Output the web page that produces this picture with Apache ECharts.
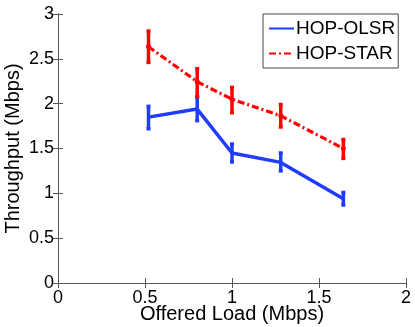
<!DOCTYPE html>
<html>
<head>
<meta charset="utf-8">
<script src="https://cdn.jsdelivr.net/npm/echarts@6/dist/echarts.min.js"></script>
<style>
  html, body { margin: 0; padding: 0; background: #fff; }
  #chart { width: 415px; height: 327px; }
</style>
</head>
<body>
<div id="chart"></div>
<script>
// offered load (Mbps)
const loads = [0.52, 0.8, 1.0, 1.28, 1.64]
// HOP-OLSR throughput and error bar ends
const olsrMean = [1.85, 1.94, 1.45, 1.345, 0.94]
const olsrLow = [1.72, 1.81, 1.35, 1.25, 0.87]
const olsrHigh = [1.97, 2.07, 1.55, 1.45, 1.01]
// HOP-STAR throughput and error bar ends
const starMean = [2.635, 2.245, 2.05, 1.865, 1.50]
const starLow = [2.46, 2.08, 1.90, 1.74, 1.39]
const starHigh = [2.81, 2.39, 2.18, 1.99, 1.60]

const fontName = 'Liberation Sans, Arial, Helvetica, sans-serif'
const blue = '#1f3cff'
const red = '#ff0000'

const chart = echarts.init(document.getElementById('chart'))

// 误差线
function errSeries(color, low, high) {
  return {
    type: 'custom',
    silent: true,
    z: 3,
    data: loads.map((x, i) => [x, low[i], high[i]]),
    renderItem(params, api) {
      const lo = api.coord([api.value(0), api.value(1)])
      const hi = api.coord([api.value(0), api.value(2)])
      const cap = 2
      const style = { stroke: color, lineWidth: 3.5 }
      return {
        type: 'group',
        children: [
          { type: 'line', shape: { x1: lo[0], y1: lo[1], x2: hi[0], y2: hi[1] }, style },
          { type: 'line', shape: { x1: lo[0] - cap, y1: lo[1], x2: lo[0] + cap, y2: lo[1] }, style },
          { type: 'line', shape: { x1: hi[0] - cap, y1: hi[1], x2: hi[0] + cap, y2: hi[1] }, style }
        ]
      }
    }
  }
}

const tickStyle = { show: true, inside: true, length: 5, lineStyle: { color: '#555', width: 1 } }
const lineStyle = { show: true, lineStyle: { color: '#555', width: 1 } }

const option = {
  animation: false,
  textStyle: { fontFamily: fontName },
  grid: { left: 58, right: 9, top: 14, bottom: 44, containLabel: false, outerBoundsMode: 'none' },
  legend: {
    left: 263,
    top: 14,
    orient: 'vertical',
    backgroundColor: '#fff',
    borderColor: '#444',
    borderWidth: 1,
    borderRadius: 0,
    padding: [5, 3, 5, 5],
    itemGap: 6,
    itemWidth: 25,
    itemHeight: 17,
    itemStyle: { opacity: 0 },
    textStyle: { fontSize: 19, color: '#000', fontFamily: fontName, padding: [0, 0, 0, -3] },
    data: ['HOP-OLSR', 'HOP-STAR']
  },
  xAxis: [
    {
      type: 'value', min: 0, max: 2, interval: 0.5,
      name: 'Offered Load (Mbps)', nameLocation: 'middle', nameGap: 21, nameMoveOverlap: false,
      nameTextStyle: { fontSize: 20, color: '#000', fontFamily: fontName },
      axisLine: lineStyle, axisTick: tickStyle,
      axisLabel: { fontSize: 18, color: '#000', margin: 6, fontFamily: fontName },
      splitLine: { show: false }
    },
    {
      type: 'value', min: 0, max: 2, interval: 0.5, position: 'top',
      axisLine: lineStyle, axisTick: tickStyle, axisLabel: { show: false }, splitLine: { show: false }
    }
  ],
  yAxis: [
    {
      type: 'value', min: 0, max: 3, interval: 0.5,
      name: 'Throughput (Mbps)', nameLocation: 'middle', nameGap: 35, nameMoveOverlap: false,
      nameTextStyle: { fontSize: 20, color: '#000', fontFamily: fontName },
      axisLine: lineStyle, axisTick: tickStyle,
      axisLabel: { fontSize: 18, color: '#000', margin: 4, fontFamily: fontName },
      splitLine: { show: false }
    },
    {
      type: 'value', min: 0, max: 3, interval: 0.5, position: 'right',
      axisLine: lineStyle, axisTick: tickStyle, axisLabel: { show: false }, splitLine: { show: false }
    }
  ],
  series: [
    {
      name: 'HOP-OLSR',
      type: 'line',
      data: loads.map((x, i) => [x, olsrMean[i]]),
      symbol: 'none',
      color: blue,
      lineStyle: { color: blue, width: 3.5 },
      z: 4
    },
    {
      name: 'HOP-STAR',
      type: 'line',
      data: loads.map((x, i) => [x, starMean[i]]),
      symbol: 'circle',
      symbolSize: 5,
      color: red,
      itemStyle: { color: red },
      lineStyle: { color: red, width: 3.2, type: [7, 3, 2, 3] },
      z: 4
    },
    errSeries(blue, olsrLow, olsrHigh),
    errSeries(red, starLow, starHigh)
  ]
}

chart.setOption(option)
</script>
</body>
</html>
